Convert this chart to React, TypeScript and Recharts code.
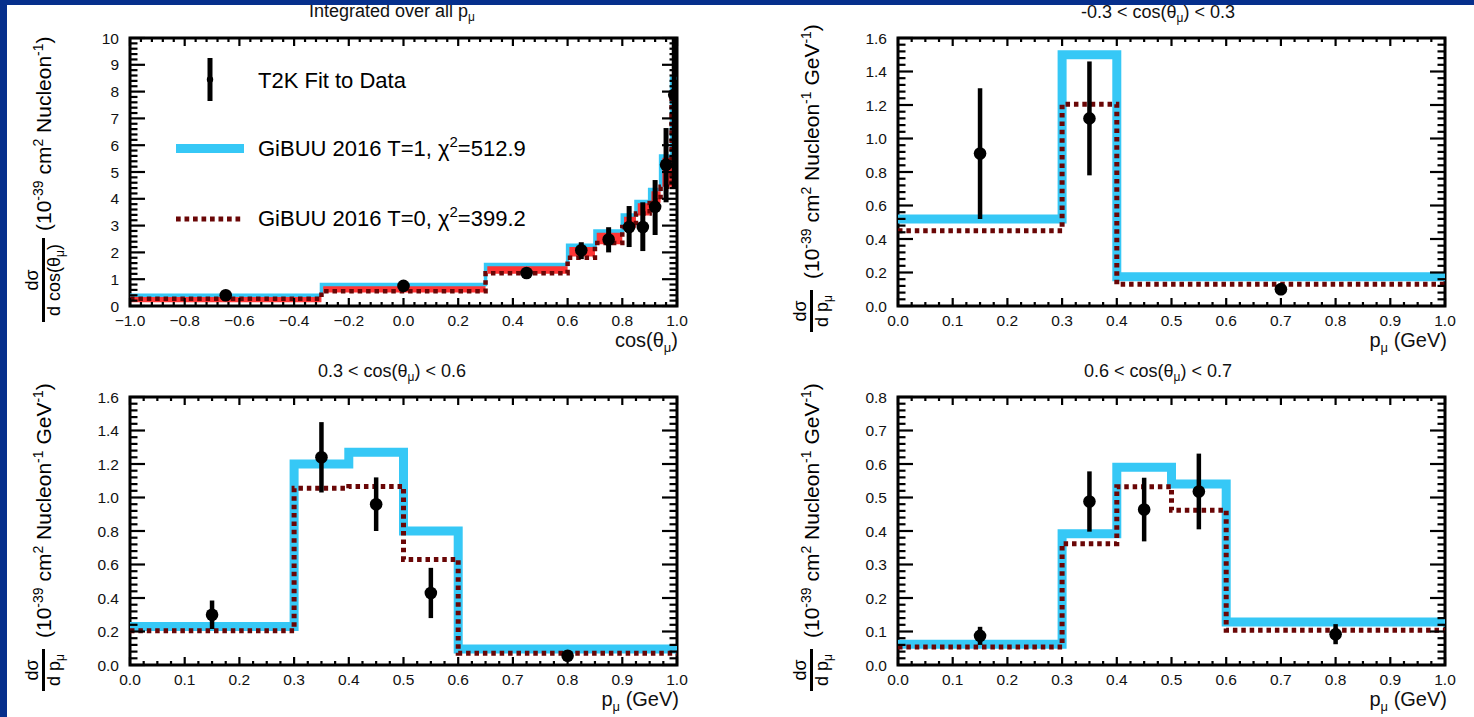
import React from "react";
import {
  ComposedChart,
  Line,
  Area,
  Scatter,
  ErrorBar,
  XAxis,
  YAxis,
  ReferenceArea,
} from "recharts";

const FONT = '"Liberation Sans", Arial, Helvetica, sans-serif';
const BLUE = "#36c8f6";
const DARK_RED = "#6a0606";
const RED = "#ff3535";
const NAVY = "#062f8c";

// Integrated over all p_mu, binned in cos(theta_mu)
const cosEdges = [-1, -0.3, 0.3, 0.6, 0.7, 0.8, 0.85, 0.9, 0.94, 0.98, 1.0];
const cosT1 = [0.4, 0.8, 1.55, 2.27, 2.8, 3.4, 3.9, 4.35, 5.6, 8.5];
const cosBandLow = [0.14, 0.5, 1.2, 1.85, 2.3, 2.92, 3.38, 3.85, 4.45, 4.4];
const cosT0 = [0.27, 0.55, 1.22, 1.8, 2.35, 2.95, 3.45, 3.95, 4.45, 7.8];
const cosPts = [-0.65, 0.0, 0.45, 0.65, 0.75, 0.825, 0.875, 0.92, 0.96, 0.99];
const cosData = [0.4, 0.75, 1.23, 2.08, 2.48, 2.95, 2.95, 3.7, 5.27, 7.88];
const cosErrDown = [0.05, 0.05, 0.07, 0.33, 0.48, 0.75, 0.9, 1.05, 1.4, 3.5];
const cosErrUp = [0.05, 0.05, 0.07, 0.3, 0.46, 0.78, 0.92, 1.0, 1.37, 2.12];

// -0.3 < cos < 0.3, binned in p_mu
const midEdges = [0, 0.3, 0.4, 1.0];
const midT1 = [0.52, 1.5, 0.175];
const midT0 = [0.45, 1.205, 0.13];
const midPts = [0.15, 0.35, 0.7];
const midData = [0.91, 1.12, 0.1];
const midErr = [0.39, 0.34, 0.035];

// 0.3 < cos < 0.6 and 0.6 < cos < 0.7 share the momentum binning
const pEdges = [0, 0.3, 0.4, 0.5, 0.6, 1.0];
const pPts = [0.15, 0.35, 0.45, 0.55, 0.8];

const fwdT1 = [0.23, 1.2, 1.27, 0.8, 0.095];
const fwdT0 = [0.205, 1.055, 1.065, 0.63, 0.07];
const fwdData = [0.3, 1.24, 0.96, 0.43, 0.055];
const fwdErr = [0.085, 0.21, 0.16, 0.15, 0.015];

const fw2T1 = [0.062, 0.392, 0.59, 0.54, 0.128];
const fw2T0 = [0.054, 0.362, 0.532, 0.462, 0.104];
const fw2Data = [0.087, 0.488, 0.464, 0.518, 0.092];
const fw2Err = [0.027, 0.09, 0.095, 0.113, 0.03];

// axis labels
const cosTicks = [-1, -0.8, -0.6, -0.4, -0.2, 0, 0.2, 0.4, 0.6, 0.8, 1.0];
const pTicks = [0, 0.1, 0.2, 0.3, 0.4, 0.5, 0.6, 0.7, 0.8, 0.9, 1.0];
const xsec10 = [0, 1, 2, 3, 4, 5, 6, 7, 8, 9, 10];
const xsec16 = [0, 0.2, 0.4, 0.6, 0.8, 1.0, 1.2, 1.4, 1.6];
const xsec08 = [0, 0.1, 0.2, 0.3, 0.4, 0.5, 0.6, 0.7, 0.8];

type Box = { left: number; top: number; w: number; h: number };
type Plot = { x0: number; x1: number; y0: number; y1: number };

function withMinors(majors: number[], n: number) {
  const out: number[] = [];
  for (let i = 0; i < majors.length - 1; i++) {
    const step = (majors[i + 1] - majors[i]) / n;
    for (let k = 0; k < n; k++) out.push(+(majors[i] + k * step).toFixed(4));
  }
  out.push(majors[majors.length - 1]);
  return out;
}

const isMajor = (majors: number[], v: number) =>
  majors.some((m) => Math.abs(m - v) < 1e-6);

const fmt1 = (v: number) =>
  (v < -1e-9 ? "\u2212" : "") + Math.abs(v).toFixed(1);
const fmt0 = (v: number) => String(Math.round(v));

// histogram as step line: value of the last bin repeated on the closing edge
const steps = (edges: number[], vals: number[]) =>
  edges.map((x, i) => ({ x, v: vals[Math.min(i, vals.length - 1)] }));

const bandSteps = (edges: number[], lo: number[], hi: number[]) =>
  edges.map((x, i) => {
    const k = Math.min(i, lo.length - 1);
    return { x, r: [lo[k], hi[k]] };
  });

const points = (xs: number[], ys: number[], down: number[], up: number[]) =>
  xs.map((x, i) => ({ x, y: ys[i], err: [down[i], up[i]] }));

const dot = (r: number) => (p: any) =>
  <circle cx={p.cx} cy={p.cy} r={r} fill="#000" />;

type PanelProps = {
  box: Box;
  plot: Plot;
  xDomain: [number, number];
  yDomain: [number, number];
  xMajors: number[];
  xSub: number;
  yMajors: number[];
  ySub: number;
  xFmt: (v: number) => string;
  yFmt: (v: number) => string;
  children: React.ReactNode;
};

function Panel(props: PanelProps) {
  const { box, plot, xDomain, yDomain, xMajors, yMajors, xFmt, yFmt } = props;
  // axes take 1px each, the rest of the gap is margin
  const margin = {
    top: plot.y0 - box.top,
    left: plot.x0 - box.left - 1,
    right: box.left + box.w - plot.x1,
    bottom: box.top + box.h - plot.y1 - 1,
  };
  const L = plot.x0 - box.left;
  const R = plot.x1 - box.left;
  const T = plot.y0 - box.top;
  const B = plot.y1 - box.top;

  const xTick = (p: any) => {
    const x = p.x;
    const v = p.payload.value;
    const major = isMajor(xMajors, v);
    const len = major ? 8 : 4;
    return (
      <g>
        <line x1={x} x2={x} y1={B} y2={B - len} stroke="#000" strokeWidth={2.2} />
        <line x1={x} x2={x} y1={T} y2={T + len} stroke="#000" strokeWidth={2.2} />
        {major && (
          <text x={x} y={B + 20} textAnchor="middle" fontSize={15.5} fontFamily={FONT} fill="#111">
            {xFmt(v)}
          </text>
        )}
      </g>
    );
  };

  const yTick = (p: any) => {
    const y = p.y;
    const v = p.payload.value;
    const major = isMajor(yMajors, v);
    const len = major ? 15 : 7.5;
    return (
      <g>
        <line x1={L} x2={L + len} y1={y} y2={y} stroke="#000" strokeWidth={2.2} />
        <line x1={R} x2={R - len} y1={y} y2={y} stroke="#000" strokeWidth={2.2} />
        {major && (
          <text x={L - 11} y={y + 5.5} textAnchor="end" fontSize={15.5} fontFamily={FONT} fill="#111">
            {yFmt(v)}
          </text>
        )}
      </g>
    );
  };

  return (
    <div style={{ position: "absolute", left: box.left, top: box.top, width: box.w, height: box.h }}>
      <ComposedChart width={box.w} height={box.h} margin={margin}>
        <XAxis
          dataKey="x"
          type="number"
          domain={xDomain}
          allowDataOverflow
          ticks={withMinors(xMajors, props.xSub)}
          interval={0}
          height={1}
          tickSize={0}
          tickMargin={0}
          tickLine={false}
          axisLine={false}
          tick={xTick}
        />
        <YAxis
          type="number"
          domain={yDomain}
          allowDataOverflow
          ticks={withMinors(yMajors, props.ySub)}
          interval={0}
          width={1}
          tickSize={0}
          tickMargin={0}
          tickLine={false}
          axisLine={false}
          tick={yTick}
        />
        {props.children}
        <ReferenceArea
          x1={xDomain[0]}
          x2={xDomain[1]}
          y1={yDomain[0]}
          y2={yDomain[1]}
          fill="none"
          stroke="#000"
          strokeWidth={3}
          ifOverflow="visible"
        />
      </ComposedChart>
    </div>
  );
}

// model curves + data for one momentum panel
function momentumSeries(edges: number[], xs: number[], t1: number[], t0: number[], ys: number[], err: number[]) {
  return [
    <Line key="t1" data={steps(edges, t1)} dataKey="v" type="stepAfter" stroke={BLUE} strokeWidth={9} dot={false} activeDot={false} isAnimationActive={false} />,
    <Line key="t0" data={steps(edges, t0)} dataKey="v" type="stepAfter" stroke={DARK_RED} strokeWidth={5} strokeDasharray="4.5 3.9" dot={false} activeDot={false} isAnimationActive={false} />,
    <Scatter key="d" data={points(xs, ys, err, err)} dataKey="y" shape={dot(6.3)} isAnimationActive={false}>
      <ErrorBar dataKey="err" direction="y" width={0} stroke="#000" strokeWidth={4.5} />
    </Scatter>,
  ];
}

function YTitle({ barX, cy, half, longX, longY, denom }: { barX: number; cy: number; half: number; longX: number; longY: number; denom: "cos" | "p" }) {
  return (
    <g fontFamily={FONT} fill="#000">
      <text transform={`translate(${barX - 6},${cy}) rotate(-90)`} textAnchor="middle" fontSize={18}>
        dσ
      </text>
      <line x1={barX} x2={barX} y1={cy - half} y2={cy + half} stroke="#000" strokeWidth={3} />
      <text transform={`translate(${barX + 16},${cy}) rotate(-90)`} textAnchor="middle" fontSize={18}>
        {denom === "cos" ? "d cos(θ" : "d p"}
        <tspan dy={4} fontSize={12}>μ</tspan>
        <tspan dy={-4}>{denom === "cos" ? ")" : ""}</tspan>
      </text>
      <text transform={`translate(${longX},${longY}) rotate(-90)`} fontSize={21}>
        (10
        <tspan dy={-8} fontSize={14}>-39</tspan>
        <tspan dy={8}> cm</tspan>
        <tspan dy={-8} fontSize={14}>2</tspan>
        <tspan dy={8}> Nucleon</tspan>
        <tspan dy={-8} fontSize={14}>-1</tspan>
        {denom === "p" ? (
          <>
            <tspan dy={8}> GeV</tspan>
            <tspan dy={-8} fontSize={14}>-1</tspan>
          </>
        ) : null}
        <tspan dy={8}>)</tspan>
      </text>
    </g>
  );
}

function Title({ x, y, children }: { x: number; y: number; children: React.ReactNode }) {
  return (
    <text x={x} y={y} textAnchor="middle" fontSize={18} fontFamily={FONT} fill="#111">
      {children}
    </text>
  );
}

function PTitle({ x, y }: { x: number; y: number }) {
  return (
    <text x={x} y={y} textAnchor="end" fontSize={20} fontFamily={FONT} fill="#111">
      p<tspan dy={5} fontSize={13}>μ</tspan>
      <tspan dy={-5}> (GeV)</tspan>
    </text>
  );
}

export default function App() {
  const box1 = { left: 0, top: 0, w: 737, h: 358 };
  const box2 = { left: 737, top: 0, w: 737, h: 358 };
  const box3 = { left: 0, top: 359, w: 737, h: 358 };
  const box4 = { left: 737, top: 359, w: 737, h: 358 };

  return (
    <div
      style={{
        position: "absolute",
        left: 0,
        top: 0,
        width: 1474,
        height: 717,
        background: "#fff",
        overflow: "hidden",
        fontFamily: FONT,
      }}
    >
      <Panel
        box={box1}
        plot={{ x0: 130, x1: 677, y0: 38, y1: 306 }}
        xDomain={[-1, 1]}
        yDomain={[0, 10]}
        xMajors={cosTicks}
        xSub={5}
        yMajors={xsec10}
        ySub={5}
        xFmt={fmt1}
        yFmt={fmt0}
      >
        <Area data={bandSteps(cosEdges, cosBandLow, cosT1)} dataKey="r" type="stepAfter" stroke="none" fill={RED} fillOpacity={1} dot={false} activeDot={false} isAnimationActive={false} />
        <Line data={steps(cosEdges, cosT1)} dataKey="v" type="stepAfter" stroke={BLUE} strokeWidth={3.5} dot={false} activeDot={false} isAnimationActive={false} />
        <Line data={steps(cosEdges, cosT0)} dataKey="v" type="stepAfter" stroke={DARK_RED} strokeWidth={4.5} strokeDasharray="4.5 3.9" dot={false} activeDot={false} isAnimationActive={false} />
        <Scatter data={points(cosPts, cosData, cosErrDown, cosErrUp)} dataKey="y" shape={dot(6.3)} isAnimationActive={false}>
          <ErrorBar dataKey="err" direction="y" width={0} stroke="#000" strokeWidth={5} />
        </Scatter>
      </Panel>

      <Panel
        box={box2}
        plot={{ x0: 898, x1: 1445, y0: 38, y1: 306 }}
        xDomain={[0, 1]}
        yDomain={[0, 1.6]}
        xMajors={pTicks}
        xSub={4}
        yMajors={xsec16}
        ySub={5}
        xFmt={fmt1}
        yFmt={fmt1}
      >
        {momentumSeries(midEdges, midPts, midT1, midT0, midData, midErr)}
      </Panel>

      <Panel
        box={box3}
        plot={{ x0: 130, x1: 677, y0: 397, y1: 665 }}
        xDomain={[0, 1]}
        yDomain={[0, 1.6]}
        xMajors={pTicks}
        xSub={4}
        yMajors={xsec16}
        ySub={5}
        xFmt={fmt1}
        yFmt={fmt1}
      >
        {momentumSeries(pEdges, pPts, fwdT1, fwdT0, fwdData, fwdErr)}
      </Panel>

      <Panel
        box={box4}
        plot={{ x0: 898, x1: 1445, y0: 397, y1: 665 }}
        xDomain={[0, 1]}
        yDomain={[0, 0.8]}
        xMajors={pTicks}
        xSub={4}
        yMajors={xsec08}
        ySub={5}
        xFmt={fmt1}
        yFmt={fmt1}
      >
        {momentumSeries(pEdges, pPts, fw2T1, fw2T0, fw2Data, fw2Err)}
      </Panel>

      <svg
        width={1474}
        height={717}
        style={{ position: "absolute", left: 0, top: 0, pointerEvents: "none" }}
      >
        {/* panel titles */}
        <Title x={392} y={17}>
          Integrated over all p<tspan dy={4} fontSize={12}>μ</tspan>
        </Title>
        <Title x={1158} y={18}>
          {"-0.3 < cos(θ"}<tspan dy={4} fontSize={12}>μ</tspan>
          <tspan dy={-4}>{") < 0.3"}</tspan>
        </Title>
        <Title x={392} y={377}>
          {"0.3 < cos(θ"}<tspan dy={4} fontSize={12}>μ</tspan>
          <tspan dy={-4}>{") < 0.6"}</tspan>
        </Title>
        <Title x={1158} y={377}>
          {"0.6 < cos(θ"}<tspan dy={4} fontSize={12}>μ</tspan>
          <tspan dy={-4}>{") < 0.7"}</tspan>
        </Title>

        {/* x axis titles */}
        <text x={678} y={347} textAnchor="end" fontSize={20} fontFamily={FONT} fill="#111">
          cos(θ<tspan dy={5} fontSize={13}>μ</tspan>
          <tspan dy={-5}>)</tspan>
        </text>
        <PTitle x={1447} y={347} />
        <PTitle x={679} y={706} />
        <PTitle x={1447} y={706} />

        {/* y axis titles */}
        <YTitle barX={43.5} cy={280} half={42} longX={51} longY={231} denom="cos" />
        <YTitle barX={811.5} cy={311} half={21} longX={819} longY={279} denom="p" />
        <YTitle barX={43.5} cy={670} half={21} longX={51} longY={638} denom="p" />
        <YTitle barX={811.5} cy={670} half={21} longX={819} longY={638} denom="p" />

        {/* legend */}
        <g fontFamily={FONT} fill="#000" fontSize={22}>
          <line x1={210} x2={210} y1={58} y2={101} stroke="#000" strokeWidth={5} />
          <circle cx={210} cy={79.5} r={3.2} fill="#000" />
          <text x={258} y={87.5}>T2K Fit to Data</text>
          <line x1={176} x2={244} y1={148.5} y2={148.5} stroke={BLUE} strokeWidth={9} />
          <text x={258} y={156}>
            GiBUU 2016 T=1, χ<tspan dy={-9} fontSize={15}>2</tspan>
            <tspan dy={9}>=512.9</tspan>
          </text>
          <line x1={176} x2={244} y1={219} y2={219} stroke={DARK_RED} strokeWidth={5} strokeDasharray="4.7 3.8" />
          <text x={258} y={226}>
            GiBUU 2016 T=0, χ<tspan dy={-9} fontSize={15}>2</tspan>
            <tspan dy={9}>=399.2</tspan>
          </text>
        </g>

        {/* slide frame */}
        <rect x={0} y={0} width={1474} height={5} fill={NAVY} />
        <rect x={0} y={0} width={7} height={717} fill={NAVY} />
      </svg>
    </div>
  );
}
